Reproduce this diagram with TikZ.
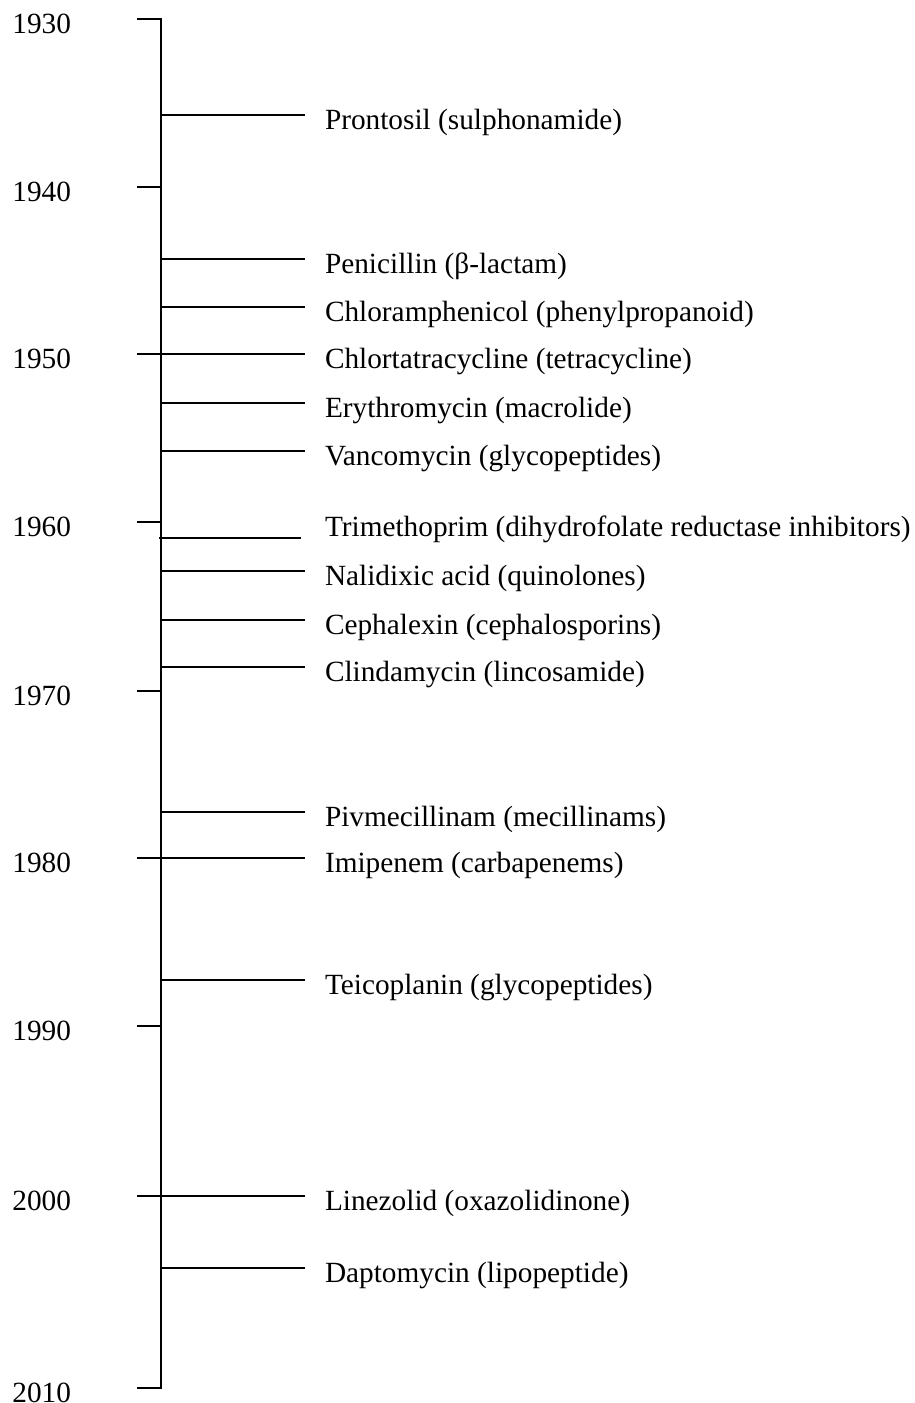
\documentclass[tikz,border=0pt]{standalone}
\usepackage{fontspec}
\setmainfont{Liberation Serif}
\begin{document}
\begin{tikzpicture}[x=1pt,y=-1pt,
  axisline/.style={line width=2pt, line join=miter, line cap=butt},
  lbl/.style={font=\fontsize{29.3}{34}\selectfont, inner sep=0pt, outer sep=0pt},
  yearlabel/.style={lbl, anchor=base east},
  druglabel/.style={lbl, anchor=base west}]
\useasboundingbox (0,0) rectangle (914,1403);
% axis with end ticks
\coordinate (t1930) at (137,19);
\coordinate (a1930) at (161,19);
\coordinate (a2010) at (161,1388);
\coordinate (t2010) at (137,1388);
\draw[axisline] (t1930) -- (a1930) -- (a2010) -- (t2010);
\node[yearlabel] (y1930) at (71,33) {1930};
\node[yearlabel] (y2010) at (71,1402) {2010};
% intermediate ticks
\foreach \yr/\y in {1940/187,1950/354,1960/522,1970/691,1980/858,1990/1026,2000/1196}{
  \coordinate (t\yr) at (137,\y);
  \coordinate (a\yr) at (161,\y);
  \draw[axisline] (t\yr) -- (a\yr);
  \node[yearlabel] (y\yr) at (71,\y+14) {\yr};
}
% drug branches
\foreach \y/\t [count=\i] in {
  115/{Prontosil (sulphonamide)},
  259/{Penicillin (β-lactam)},
  307/{Chloramphenicol (phenylpropanoid)},
  354/{Chlortatracycline (tetracycline)},
  403/{Erythromycin (macrolide)},
  451/{Vancomycin (glycopeptides)},
  571/{Nalidixic acid (quinolones)},
  620/{Cephalexin (cephalosporins)},
  667/{Clindamycin (lincosamide)},
  812/{Pivmecillinam (mecillinams)},
  858/{Imipenem (carbapenems)},
  980/{Teicoplanin (glycopeptides)},
  1196/{Linezolid (oxazolidinone)},
  1268/{Daptomycin (lipopeptide)}}{
  \coordinate (b\i) at (161,\y);
  \coordinate (e\i) at (305,\y);
  \draw[axisline] (b\i) -- (e\i);
  \node[druglabel] (d\i) at (325,\y+14) {\t};
}
% Trimethoprim (offset line)
\coordinate (bT) at (159,538);
\coordinate (eT) at (301,538);
\draw[axisline] (bT) -- (eT);
\node[druglabel] (dT) at (325,536) {Trimethoprim (dihydrofolate reductase inhibitors)};
\end{tikzpicture}
\end{document}
